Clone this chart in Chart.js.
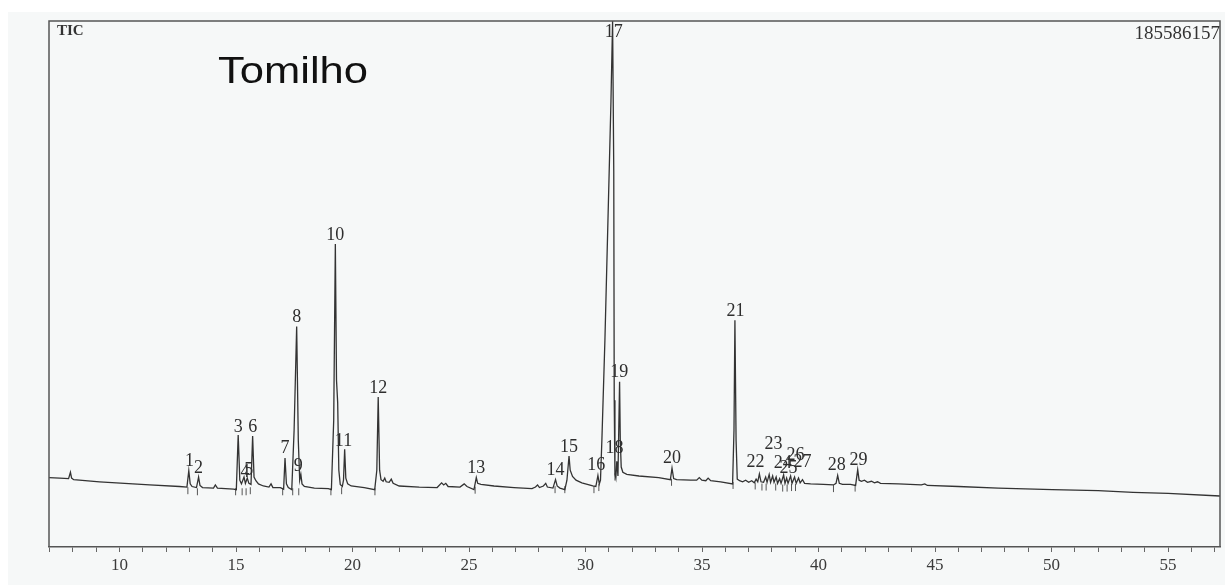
<!DOCTYPE html>
<html>
<head>
<meta charset="utf-8">
<title>Tomilho – TIC</title>
<script src="https://cdn.jsdelivr.net/npm/chart.js@4/dist/chart.umd.min.js"></script>
<style>
  html, body { margin: 0; padding: 0; background: #ffffff; }
  #wrap { width: 1225px; height: 585px; }
</style>
</head>
<body>
<div id="wrap"><canvas id="tic" width="1225" height="585"></canvas></div>
<script>
// Total ion chromatogram of thyme (Tomilho) essential oil.
// Retention time in minutes, abundance in % of the full-scale TIC value.
const fullScaleCounts = '185586157';
const plotTitle = 'Tomilho';
const signalName = 'TIC';

const traceTime = [
  6.97, 7.43, 7.81, 7.89, 7.94, 8.03, 9.14, 11.29, 12.57, 12.89,
  12.97, 13.03, 13.11, 13.30, 13.39, 13.45, 13.56, 14.03, 14.11, 14.20,
  14.89, 15.01, 15.09, 15.16, 15.23, 15.34, 15.40, 15.48, 15.55, 15.64,
  15.71, 15.77, 15.85, 15.96, 16.17, 16.41, 16.50, 16.58, 16.90, 17.04,
  17.10, 17.16, 17.24, 17.39, 17.49, 17.60, 17.67, 17.73, 17.78, 17.83,
  17.93, 18.36, 18.96, 19.09, 19.19, 19.26, 19.31, 19.36, 19.41, 19.47,
  19.56, 19.61, 19.66, 19.71, 19.79, 19.94, 20.50, 20.95, 21.04, 21.10,
  21.16, 21.22, 21.31, 21.38, 21.44, 21.57, 21.66, 21.74, 22.00, 22.86,
  23.63, 23.82, 23.91, 24.00, 24.10, 24.61, 24.79, 24.91, 25.21, 25.31,
  25.37, 25.51, 26.07, 26.93, 27.70, 27.85, 27.94, 28.02, 28.19, 28.29,
  28.36, 28.60, 28.71, 28.78, 28.90, 29.11, 29.20, 29.29, 29.34, 29.44,
  29.59, 29.84, 30.31, 30.44, 30.53, 30.59, 30.64, 30.70, 30.83, 30.96,
  31.09, 31.16, 31.21, 31.23, 31.26, 31.30, 31.34, 31.39, 31.46, 31.49,
  31.53, 31.60, 31.77, 32.29, 33.14, 33.64, 33.71, 33.78, 33.91, 34.51,
  34.77, 34.88, 34.99, 35.16, 35.26, 35.37, 35.80, 36.31, 36.37, 36.41,
  36.46, 36.51, 36.61, 36.74, 36.87, 37.00, 37.13, 37.24, 37.32, 37.39,
  37.46, 37.53, 37.64, 37.73, 37.79, 37.88, 37.94, 38.03, 38.09, 38.18,
  38.24, 38.33, 38.39, 38.50, 38.56, 38.63, 38.69, 38.80, 38.86, 38.97,
  39.04, 39.14, 39.21, 39.31, 39.40, 39.66, 40.21, 40.64, 40.75, 40.82,
  40.89, 41.03, 41.37, 41.59, 41.68, 41.74, 41.84, 41.97, 42.10, 42.27,
  42.40, 42.53, 42.66, 43.43, 44.41, 44.56, 44.67, 46.00, 47.71, 50.03,
  52.00, 53.50, 55.00, 57.23
];
const traceAbundance = [
  13.2, 13.1, 13.0, 14.2, 13.1, 12.8, 12.4, 11.8, 11.5, 11.4,
  14.5, 12.0, 11.5, 11.3, 13.3, 11.7, 11.3, 11.2, 11.8, 11.2,
  11.0, 10.9, 21.3, 12.7, 12.0, 13.3, 12.1, 13.1, 12.1, 11.9,
  21.1, 13.3, 12.6, 12.0, 11.6, 11.4, 12.0, 11.3, 11.3, 11.0,
  16.9, 12.0, 11.3, 10.9, 22.2, 41.9, 20.3, 12.7, 13.8, 12.0,
  11.5, 11.2, 11.1, 10.9, 24.1, 57.6, 31.7, 27.5, 14.6, 11.9,
  11.5, 12.7, 18.6, 13.1, 12.0, 11.6, 11.3, 10.9, 14.6, 28.5,
  14.6, 12.8, 12.5, 13.1, 12.4, 12.3, 12.9, 12.1, 11.6, 11.4,
  11.3, 12.2, 11.8, 12.1, 11.5, 11.4, 12.0, 11.5, 10.9, 13.2,
  12.1, 11.9, 11.6, 11.3, 11.1, 11.4, 11.8, 11.3, 11.6, 12.1,
  11.4, 11.2, 12.8, 11.6, 11.2, 10.9, 12.7, 17.3, 14.6, 13.4,
  12.7, 12.2, 11.6, 11.5, 13.6, 12.0, 12.7, 20.3, 39.3, 62.0,
  84.8, 100.0, 71.5, 27.9, 13.9, 13.1, 16.3, 13.5, 31.4, 20.3,
  15.2, 14.2, 13.8, 13.5, 13.2, 12.8, 15.0, 13.0, 12.8, 12.7,
  12.7, 13.2, 12.7, 12.6, 13.1, 12.6, 12.4, 12.0, 22.2, 43.1,
  20.3, 12.9, 12.6, 12.4, 12.7, 12.3, 12.6, 12.2, 12.9, 12.4,
  13.9, 12.4, 12.3, 13.3, 12.3, 13.8, 12.3, 13.5, 12.3, 13.3,
  12.1, 13.0, 12.1, 13.7, 12.1, 13.1, 12.1, 13.5, 12.1, 13.3,
  12.1, 13.1, 12.2, 12.8, 12.1, 12.0, 11.9, 11.8, 12.1, 13.6,
  12.1, 11.9, 11.9, 11.7, 14.7, 12.7, 12.5, 12.7, 12.3, 12.5,
  12.2, 12.4, 12.1, 12.0, 11.8, 12.0, 11.7, 11.5, 11.2, 10.9,
  10.7, 10.4, 10.2, 9.7
];

// Peak numbers and where each number is printed (time, abundance level)
const peakNumbers = [
  '1', '2', '3', '4', '5', '6', '7', '8', '9', '10',
  '11', '12', '13', '14', '15', '16', '17', '18', '19', '20',
  '21', '22', '23', '24', '25', '26', '27', '28', '29'
];
const labelTime = [
  13.00, 13.39, 15.09, 15.38, 15.54, 15.71, 17.10, 17.60, 17.67, 19.26,
  19.61, 21.10, 25.31, 28.71, 29.29, 30.46, 31.21, 31.24, 31.45, 33.71,
  36.44, 37.29, 38.07, 38.46, 38.71, 39.01, 39.31, 40.78, 41.71
];
const labelAbundance = [
  16.3, 14.9, 22.7, 14.3, 14.5, 22.7, 18.7, 43.7, 15.4, 59.3,
  20.1, 30.2, 14.9, 14.6, 19.0, 15.6, 97.8, 18.7, 33.2, 16.8,
  44.8, 16.2, 19.5, 15.9, 15.0, 17.5, 16.2, 15.6, 16.5
];

// Integration start/stop ticks printed under the baseline
const markerTime = [
  12.93, 13.34, 14.98, 15.26, 15.43, 15.61, 17.00, 17.43, 17.69, 19.07,
  19.53, 20.96, 25.26, 28.69, 29.11, 30.36, 30.57, 31.26, 33.69, 36.33,
  37.28, 37.57, 37.75, 38.16, 38.46, 38.65, 38.84, 39.01, 40.64, 41.57
];
const markerAbundance = [
  10.7, 10.5, 10.5, 10.5, 10.5, 10.7, 10.5, 10.5, 10.5, 10.5,
  10.7, 10.5, 10.8, 10.9, 10.9, 10.9, 11.3, 13.3, 12.3, 11.7,
  11.6, 11.4, 11.4, 11.4, 11.2, 11.2, 11.3, 11.3, 11.1, 11.2
];

const timeTickLabels = [10, 15, 20, 25, 30, 35, 40, 45, 50, 55];

const tracePoints = traceTime.map((t, i) => ({ x: t, y: traceAbundance[i] }));
const markerPoints = markerTime.map((t, i) => ({ x: t, y: markerAbundance[i] }));

const SERIF = '"Liberation Serif", "DejaVu Serif", serif';
const SANS = '"Liberation Sans", Arial, sans-serif';

const decorations = {
  id: 'decorations',
  beforeDraw(chart) {
    const { ctx } = chart;
    ctx.save();
    ctx.fillStyle = '#ffffff';
    ctx.fillRect(0, 0, chart.width, chart.height);
    ctx.fillStyle = '#f6f8f8';
    ctx.fillRect(8, 12, chart.width - 8, chart.height - 12);
    ctx.restore();
  },
  afterDraw(chart) {
    const { ctx, chartArea: a, scales } = chart;
    ctx.save();
    // frame: left, top and right sides (bottom is the time axis)
    ctx.strokeStyle = '#555555';
    ctx.lineWidth = 1.5;
    ctx.beginPath();
    ctx.moveTo(a.left, a.bottom);
    ctx.lineTo(a.left, a.top);
    ctx.lineTo(a.right, a.top);
    ctx.lineTo(a.right, a.bottom);
    ctx.stroke();

    // corner captions
    ctx.fillStyle = '#333333';
    ctx.font = 'bold 15px ' + SERIF;
    ctx.textAlign = 'left';
    ctx.textBaseline = 'middle';
    ctx.fillText(signalName, a.left + 8, a.top + 10);

    ctx.font = '19px ' + SERIF;
    ctx.textAlign = 'right';
    ctx.fillText(fullScaleCounts, a.right, a.top + 13);

    // sample name
    ctx.fillStyle = '#111111';
    ctx.font = '37px ' + SANS;
    ctx.textAlign = 'left';
    ctx.textBaseline = 'alphabetic';
    const w = ctx.measureText(plotTitle).width;
    ctx.save();
    ctx.translate(218, 83);
    ctx.scale(150 / w, 1);
    ctx.fillText(plotTitle, 0, 0);
    ctx.restore();

    // peak numbers
    ctx.fillStyle = '#2e2e2e';
    ctx.font = '18px ' + SERIF;
    ctx.textAlign = 'center';
    ctx.textBaseline = 'middle';
    peakNumbers.forEach((n, i) => {
      const x = scales.x.getPixelForValue(labelTime[i]);
      const y = scales.y.getPixelForValue(labelAbundance[i]);
      ctx.fillText(n, x, y);
    });
    ctx.restore();
  }
};

new Chart(document.getElementById('tic'), {
  type: 'line',
  data: {
    datasets: [
      {
        label: signalName,
        data: tracePoints,
        borderColor: '#333333',
        borderWidth: 1.3,
        pointRadius: 0,
        tension: 0,
        fill: false
      },
      {
        label: 'integration',
        data: markerPoints,
        showLine: false,
        pointStyle: 'line',
        rotation: 90,
        pointRadius: 3.5,
        borderColor: '#555555',
        borderWidth: 1,
        backgroundColor: '#555555'
      }
    ]
  },
  options: {
    responsive: false,
    animation: false,
    events: [],
    layout: { padding: { left: 49, right: 3, top: 21, bottom: 0 } },
    plugins: { legend: { display: false }, tooltip: { enabled: false } },
    scales: {
      x: {
        type: 'linear',
        min: 6.97,
        max: 57.23,
        afterFit(scale) { scale.height = 38; },
        border: { display: true, color: '#555555', width: 1.5 },
        grid: { drawOnChartArea: false, drawTicks: true, tickLength: 5, color: '#666666', lineWidth: 1 },
        ticks: {
          stepSize: 1,
          autoSkip: false,
          includeBounds: false,
          maxRotation: 0,
          padding: 3,
          color: '#3a3a3a',
          font: { family: SERIF, size: 17 },
          callback: (v) => (timeTickLabels.includes(v) ? String(v) : '')
        }
      },
      y: { display: false, min: 0, max: 100 }
    }
  },
  plugins: [decorations]
});
</script>
</body>
</html>
